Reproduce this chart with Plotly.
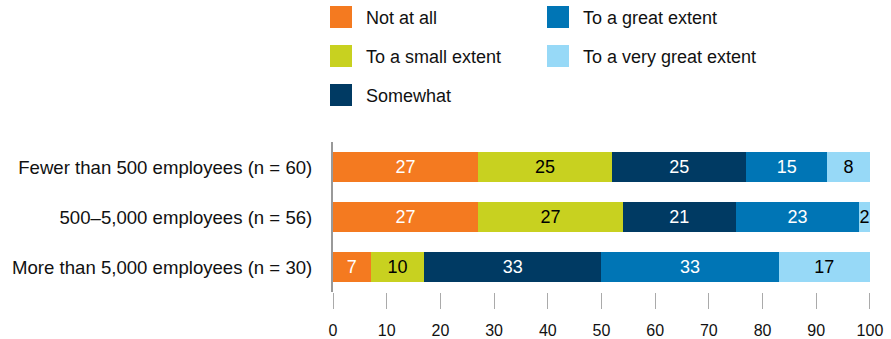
import plotly.graph_objects as go

categories = [
    "Fewer than 500 employees (n = 60)",
    "500–5,000 employees (n = 56)",
    "More than 5,000 employees (n = 30)",
]
series_names = ["Not at all", "To a small extent", "Somewhat", "To a great extent", "To a very great extent"]
not_at_all = [27, 27, 7]
small_extent = [25, 27, 10]
somewhat = [25, 21, 33]
great_extent = [15, 23, 33]
very_great_extent = [8, 2, 17]
x_ticks = [0, 10, 20, 30, 40, 50, 60, 70, 80, 90, 100]

series_values = [not_at_all, small_extent, somewhat, great_extent, very_great_extent]
colors = ["#F47A20", "#C8D120", "#003A63", "#0075B5", "#97D9F7"]
text_colors = ["white", "black", "white", "white", "black"]

FONT = "Liberation Sans, Arial, Helvetica, sans-serif"

fig = go.Figure()
for name, vals, col, tc in zip(series_names, series_values, colors, text_colors):
    fig.add_trace(go.Bar(
        y=categories, x=vals, name=name, orientation="h",
        marker=dict(color=col, line=dict(width=0)),
        text=[str(v) for v in vals], textposition="inside",
        insidetextanchor="middle",
        textfont=dict(color=tc, size=18, family=FONT),
        showlegend=False, hoverinfo="skip",
    ))

# legend drawn manually (2 columns)
legend_pos = [(0, 0), (0, 1), (0, 2), (1, 0), (1, 1)]
col_x = [330, 547]
row_y = [17, 56, 95]
W, H = 891, 339
L, R, T, B = 333, 20, 142, 47
pw, ph = W - L - R, H - T - B
def px_to_paper(x, y):
    return (x - L) / pw, (H - B - y) / ph

for name, col, (c, r) in zip(series_names, colors, legend_pos):
    x0, y0 = px_to_paper(col_x[c], row_y[r] - 11)
    x1, y1 = px_to_paper(col_x[c] + 22, row_y[r] + 11)
    fig.add_shape(type="rect", xref="paper", yref="paper", x0=x0, x1=x1, y0=y0, y1=y1,
                  fillcolor=col, line=dict(width=0))
    tx, ty = px_to_paper(col_x[c] + 34, row_y[r] + 1)
    fig.add_annotation(xref="paper", yref="paper", x=tx, y=ty, text=name, showarrow=False,
                       xanchor="left", yanchor="middle", font=dict(size=18, color="#111", family=FONT))

fig.update_layout(
    barmode="stack", bargap=0.39,
    width=W, height=H,
    margin=dict(l=L, r=R, t=T, b=B, autoexpand=False),
    plot_bgcolor="white", paper_bgcolor="white",
    font=dict(family=FONT, size=18, color="#111"),
    uniformtext=dict(mode="show", minsize=18),
    showlegend=False,
)
fig.update_xaxes(range=[0, 100.2], tickvals=x_ticks, ticks="outside", ticklen=16, tickwidth=1,
                 tickcolor="#aaa", showgrid=False, zeroline=False, showline=False,
                 automargin=False, ticklabelstandoff=8,
                 tickfont=dict(size=16, family=FONT, color="#111"))
fig.update_yaxes(autorange="reversed", showline=True, linecolor="#999", linewidth=2,
                 showgrid=False, ticks="", ticklabelstandoff=15, automargin=False,
                 tickfont=dict(size=18.6, family=FONT, color="#111"))

fig.write_html("out.html", config={"displayModeBar": False},
               post_script="document.body.style.margin='0';document.body.style.overflow='hidden';")
